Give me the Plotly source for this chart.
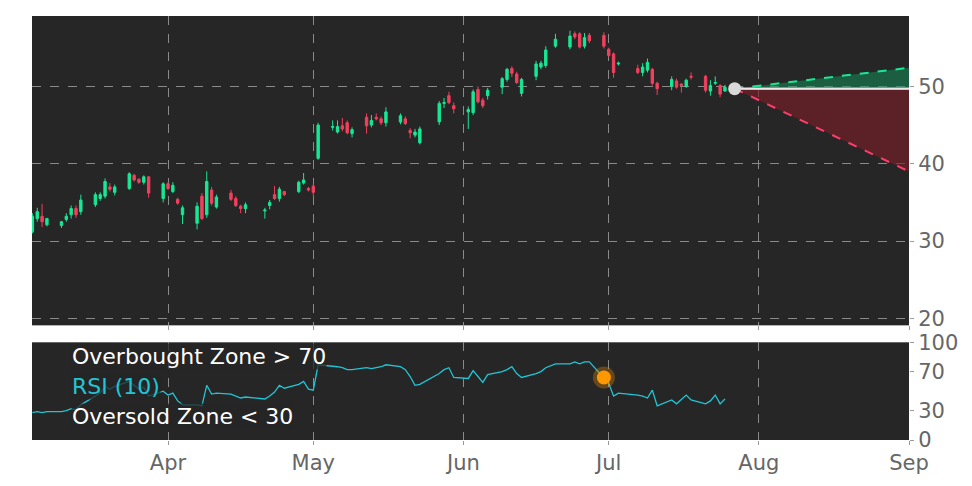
import pandas as pd
import plotly.graph_objects as go
from plotly.subplots import make_subplots

# trading days (weekdays minus market holidays)
holidays = ['2025-04-18', '2025-05-26', '2025-06-19', '2025-07-04']
dates = [d for d in pd.bdate_range('2025-03-04', '2025-07-25') if d.strftime('%Y-%m-%d') not in holidays]

opens = [31.2, 32.9, 33.2, 32.1,
         32.0, 32.8, 33.4, 34.2, 33.8,
         34.7, 35.5, 35.8, 37.0, 36.3,
         36.8, 38.5, 38.0, 37.6, 38.3,
         35.5, 37.4, 36.4, 35.4, 33.4,
         32.3, 35.8, 33.4, 36.6, 34.4,
         36.2, 35.5, 34.5, 34.2,
         33.9, 34.6, 36.0, 35.5, 36.4,
         36.4, 37.5, 36.8, 37.1, 40.7,
         44.7, 44.1, 44.9, 45.3, 43.9,
         46.0, 45.0, 46.0, 45.8, 45.3,
         45.4, 45.8, 44.3, 43.7, 42.7,
         45.4, 47.8, 48.8, 47.5,
         46.7, 46.6, 49.6, 48.2, 48.8,
         49.9, 50.9, 52.3, 51.6, 49.1,
         51.3, 52.5, 52.7, 55.2,
         55.1, 56.8, 56.8, 55.2, 56.6,
         56.6, 54.8, 54.2, 52.9,
         52.3, 51.8, 52.1, 52.2, 50.4,
         50.0, 50.7, 50.3, 50.0, 51.3,
         51.3, 49.4, 50.4, 50.1, 49.4]
closes = [33.2, 33.8, 32.5, 32.9,
          32.5, 33.2, 34.2, 33.4, 35.3,
          36.0, 36.0, 37.7, 36.7, 37.0,
          38.7, 37.9, 37.6, 38.3, 36.2,
          37.4, 36.8, 37.2, 34.9, 34.3,
          34.5, 32.9, 37.7, 34.9, 35.7,
          35.4, 34.6, 34.2, 34.7,
          34.0, 35.0, 35.5, 36.7, 36.0,
          37.6, 37.9, 36.6, 36.3, 45.0,
          44.8, 44.8, 44.5, 44.0, 44.4,
          44.9, 45.6, 45.8, 45.3, 46.7,
          46.2, 45.2, 44.0, 44.1, 44.5,
          47.8, 47.9, 47.9, 47.1,
          47.0, 49.3, 48.0, 47.5, 49.5,
          51.0, 52.2, 51.7, 50.5, 50.9,
          52.9, 53.0, 54.7, 56.1,
          56.5, 56.4, 55.1, 56.3, 55.9,
          55.2, 54.0, 51.8, 53.0,
          51.8, 52.5, 53.1, 50.4, 49.7,
          50.9, 49.9, 50.1, 50.8, 51.2,
          49.5, 50.1, 50.5, 49.0, 49.9]
highs = [33.6, 34.3, 34.8, 33.0,
         32.6, 33.6, 34.6, 34.6, 36.0,
         36.3, 36.3, 38.1, 37.5, 37.3,
         38.9, 38.7, 38.1, 38.5, 38.4,
         37.6, 37.6, 37.6, 35.6, 34.6,
         35.0, 36.2, 39.0, 37.0, 36.0,
         36.6, 35.8, 34.7, 35.0,
         34.3, 35.3, 37.1, 37.0, 36.5,
         37.8, 38.8, 37.0, 37.4, 45.3,
         45.6, 45.6, 45.9, 45.6, 44.7,
         46.5, 46.3, 46.5, 46.1, 47.3,
         46.5, 46.1, 44.6, 44.5, 44.8,
         48.1, 48.5, 49.3, 47.9,
         47.4, 49.6, 50.0, 48.5, 49.8,
         51.2, 52.4, 52.6, 51.9, 51.1,
         53.3, 53.3, 55.2, 56.8,
         57.2, 57.1, 57.0, 56.9, 56.9,
         57.0, 55.0, 54.4, 53.2,
         52.8, 53.0, 53.6, 52.4, 50.6,
         51.3, 51.0, 50.4, 51.0, 51.8,
         51.5, 50.8, 51.3, 50.3, 50.2]
lows = [31.0, 32.5, 31.8, 31.9,
        31.7, 32.5, 32.9, 33.0, 33.4,
        34.4, 35.2, 35.5, 36.4, 35.9,
        36.6, 37.7, 37.4, 37.3, 35.6,
        35.0, 36.6, 36.2, 34.7, 32.2,
        31.5, 32.7, 33.0, 34.6, 34.2,
        35.2, 34.4, 33.6, 33.6,
        32.9, 34.1, 35.3, 35.1, 35.8,
        36.2, 37.3, 36.4, 35.8, 40.5,
        44.3, 43.9, 44.2, 43.8, 43.4,
        43.9, 44.7, 45.6, 45.0, 44.8,
        45.1, 45.0, 43.3, 43.4, 42.5,
        45.0, 47.2, 47.7, 46.5,
        44.5, 46.3, 47.8, 47.2, 48.3,
        49.0, 50.6, 51.2, 50.3, 48.7,
        50.8, 52.2, 52.4, 55.0,
        54.8, 56.1, 54.9, 54.9, 55.6,
        54.9, 53.8, 51.1, 52.7,
        51.6, 51.3, 51.8, 50.1, 48.9,
        49.5, 49.7, 49.2, 49.8, 50.9,
        49.2, 48.8, 50.2, 48.6, 49.3]
rsi = [28, 29, 28, 29,
       29, 30, 32, 31, 36,
       45, 48, 55, 52, 55,
       60, 56, 52, 54, 45,
       50, 46, 48, 40, 36,
       36, 35, 56, 47, 48,
       47, 45, 43, 44,
       42, 45, 49, 56, 53,
       57, 60, 52, 51, 77,
       76, 75, 74, 72, 72,
       74, 73, 74, 75, 77,
       75, 72, 65, 56, 57,
       68, 72, 74, 64,
       63, 71, 65, 59, 67,
       70, 72, 75, 68, 64,
       68, 70, 74, 78,
       78, 80, 78, 80, 80,
       64, 58, 45, 48,
       46, 45, 43, 51, 35,
       41, 37, 42, 46, 41,
       37, 40, 46, 37, 42]

signal_date = '2025-06-30'
signal_rsi = 64
proj_dates = ['2025-07-27', '2025-09-01']
proj_flat = [49.7, 49.7]
proj_up = [49.7, 52.4]
proj_down = [49.7, 39.0]

bg = '#262626'
grid = '#8a8a8a'

fig = make_subplots(rows=2, cols=1, shared_xaxes=True, row_heights=[0.76, 0.24], vertical_spacing=0.04)

fig.add_trace(go.Candlestick(
    x=dates, open=opens, high=highs, low=lows, close=closes,
    increasing=dict(line=dict(color='#17e895', width=1), fillcolor='#17e895'),
    decreasing=dict(line=dict(color='#f0415e', width=1), fillcolor='#f0415e'),
    whiskerwidth=0, showlegend=False), row=1, col=1)

# projection cone
fig.add_trace(go.Scatter(x=proj_dates, y=proj_flat, mode='lines', line=dict(color='#e8e8e8', width=2),
                         showlegend=False), row=1, col=1)
fig.add_trace(go.Scatter(x=proj_dates, y=proj_up, mode='lines', line=dict(color='#17e895', width=2, dash='dash'),
                         fill='tonexty', fillcolor='rgba(20,140,90,0.55)', showlegend=False), row=1, col=1)
fig.add_trace(go.Scatter(x=proj_dates, y=proj_flat, mode='lines', line=dict(color='#e8e8e8', width=2),
                         showlegend=False), row=1, col=1)
fig.add_trace(go.Scatter(x=proj_dates, y=proj_down, mode='lines', line=dict(color='#ff3d6a', width=2, dash='dash'),
                         fill='tonexty', fillcolor='rgba(120,30,40,0.65)', showlegend=False), row=1, col=1)
fig.add_trace(go.Scatter(x=proj_dates[:1], y=proj_flat[:1], mode='markers',
                         marker=dict(color='#d9d9d9', size=13), showlegend=False), row=1, col=1)

# RSI panel
fig.add_hline(y=70, line=dict(color='#bdbdbd', width=1.5), row=2, col=1)
fig.add_hline(y=30, line=dict(color='#bdbdbd', width=1.5), row=2, col=1)
fig.add_trace(go.Scatter(x=dates, y=rsi, mode='lines', line=dict(color='#21c5d5', width=1.3),
                         showlegend=False), row=2, col=1)
fig.add_trace(go.Scatter(x=[signal_date], y=[signal_rsi], mode='markers',
                         marker=dict(color='#ff9900', size=14, line=dict(color='rgba(255,153,0,0.3)', width=8)),
                         showlegend=False), row=2, col=1)

labels = [('Overbought Zone > 70', 85, 'white'), ('RSI (10)', 55, '#21c5d5'), ('Oversold Zone < 30', 24, 'white')]
for txt, yv, col in labels:
    fig.add_annotation(x='2025-03-12', y=yv, text=txt, xref='x2', yref='y2', xanchor='left', showarrow=False,
                       font=dict(color=col, size=22, family='DejaVu Sans'),
                       bgcolor='rgba(38,38,38,0.75)', borderpad=0)

axis_font = dict(color='#666666', size=21, family='DejaVu Sans')
fig.update_xaxes(range=['2025-03-03 22:00', '2025-09-01'], showgrid=True, gridcolor=grid, griddash='dash',
                 gridwidth=1, zeroline=False, showline=False, ticks='outside', tickcolor='#999',
                 ticklen=4, tickfont=axis_font, dtick='M1', tickformat='%b')
fig.update_xaxes(showticklabels=False, row=1, col=1)
fig.update_yaxes(side='right', showgrid=True, gridcolor=grid, griddash='dash', zeroline=False,
                 tickfont=axis_font, ticks='outside', tickcolor='#999', ticklen=4)
fig.update_yaxes(range=[19.1, 59.1], tickvals=[20, 30, 40, 50], row=1, col=1)
fig.update_yaxes(range=[0, 100], tickvals=[0, 30, 70, 100], showgrid=False, row=2, col=1)

# page body has an 8px margin, so size and margins compensate for it
fig.update_layout(
    width=956, height=470,
    margin=dict(l=24, r=55, t=8, b=38, autoexpand=False),
    paper_bgcolor='white', plot_bgcolor=bg,
    xaxis_rangeslider_visible=False,
    showlegend=False,
)

fig.write_html("out.html")
